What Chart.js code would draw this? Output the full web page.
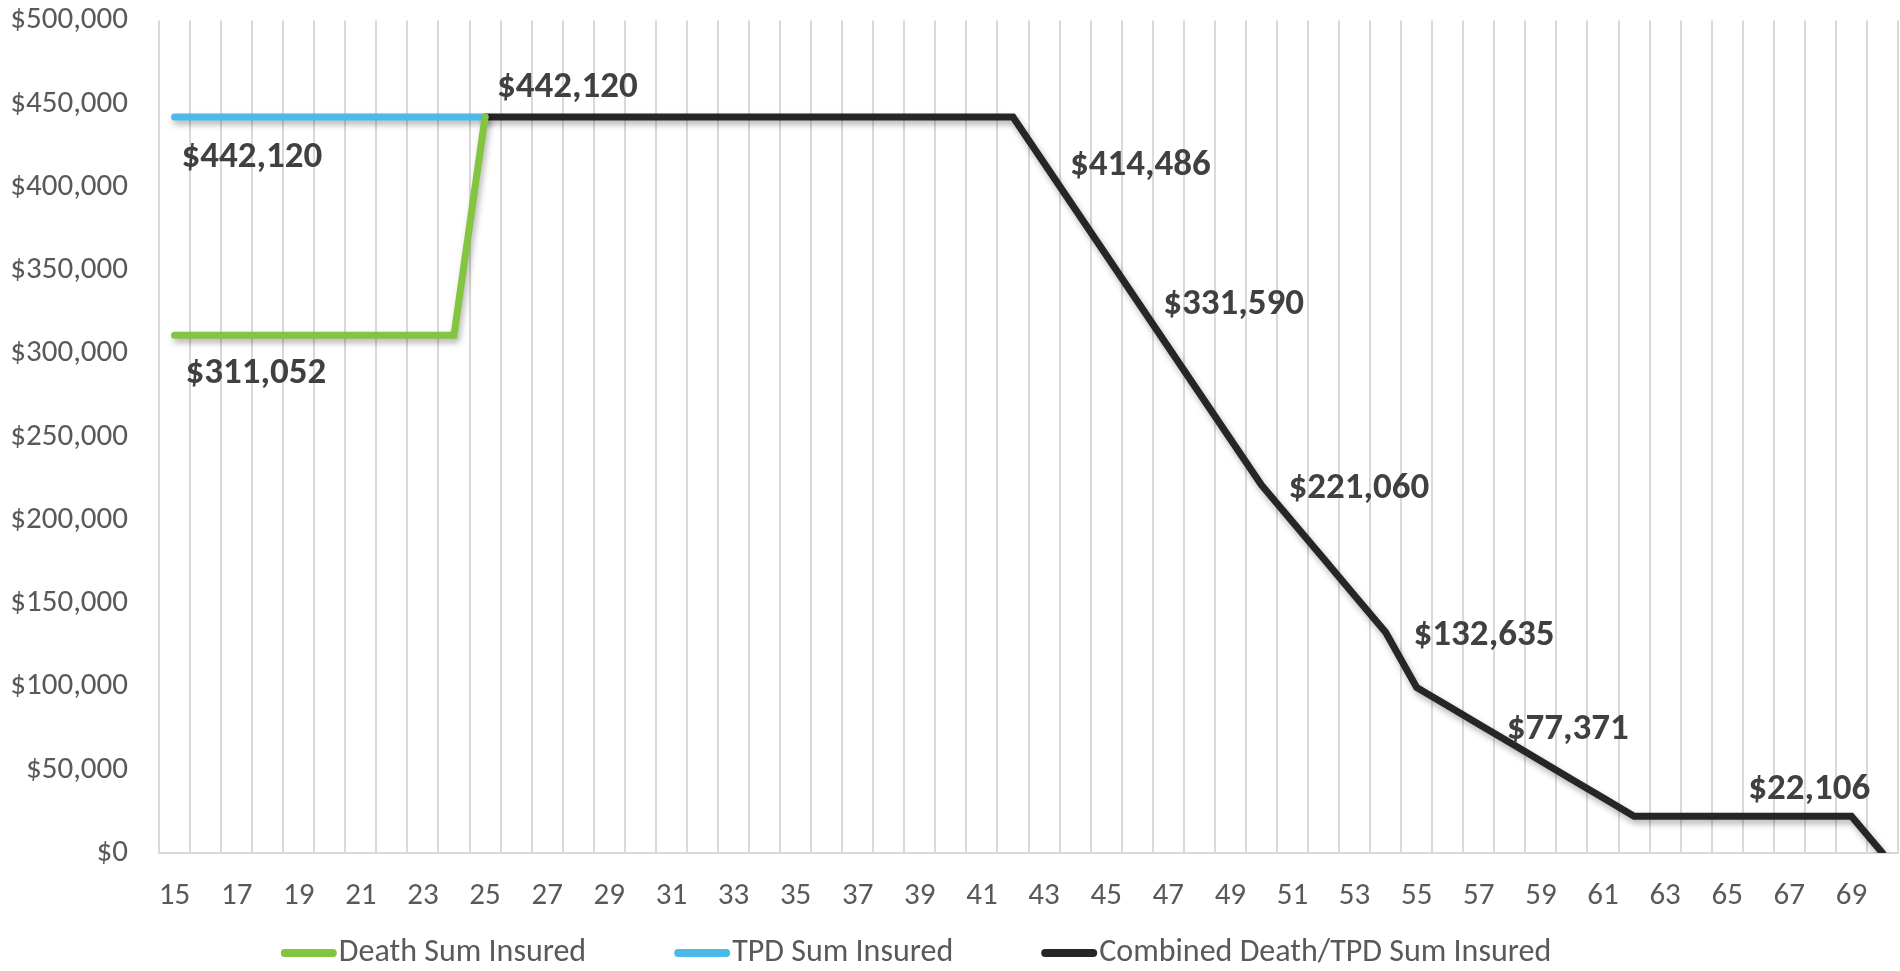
<!DOCTYPE html>
<html>
<head>
<meta charset="utf-8">
<script src="https://cdn.jsdelivr.net/npm/chart.js@4.4.1/dist/chart.umd.min.js"></script>
<style>
  html, body { margin: 0; padding: 0; background: #ffffff; }
  #wrap { width: 1900px; height: 971px; position: relative; }
</style>
</head>
<body>
<div id="wrap"><canvas id="c" width="1900" height="971"></canvas></div>
<script>
// ---------- DATA ----------
const ages = ['15','16','17','18','19','20','21','22','23','24','25','26','27','28','29','30',
  '31','32','33','34','35','36','37','38','39','40','41','42','43','44','45','46','47','48',
  '49','50','51','52','53','54','55','56','57','58','59','60','61','62','63','64','65','66',
  '67','68','69','70'];

const deathSumInsured = [311052,311052,311052,311052,311052,311052,311052,311052,311052,311052,
  442120,null,null,null,null,null,null,null,null,null,null,null,null,null,null,null,null,null,
  null,null,null,null,null,null,null,null,null,null,null,null,null,null,null,null,null,null,
  null,null,null,null,null,null,null,null,null,null];

const tpdSumInsured = [442120,442120,442120,442120,442120,442120,442120,442120,442120,442120,
  442120,null,null,null,null,null,null,null,null,null,null,null,null,null,null,null,null,null,
  null,null,null,null,null,null,null,null,null,null,null,null,null,null,null,null,null,null,
  null,null,null,null,null,null,null,null,null,null];

const combinedSumInsured = [null,null,null,null,null,null,null,null,null,null,
  442120,442120,442120,442120,442120,442120,442120,442120,442120,442120,442120,442120,442120,
  442120,442120,442120,442120,442120,
  414486,386855,359222,331590,303958,276325,248693,221060,
  198954,176848,154741,132635,
  99477,88424,77371,66318,55265,44212,33159,22106,
  22106,22106,22106,22106,22106,22106,22106,0];

const seriesNames = ['Death Sum Insured', 'TPD Sum Insured', 'Combined Death/TPD Sum Insured'];
const yTicks = [0, 50000, 100000, 150000, 200000, 250000, 300000, 350000, 400000, 450000, 500000];

// which points carry a value label (dataset index, point index)
const labelledPoints = [
  { ds: 1, i: 0 },
  { ds: 0, i: 0 },
  { ds: 2, i: 10 },
  { ds: 2, i: 28 },
  { ds: 2, i: 31 },
  { ds: 2, i: 35 },
  { ds: 2, i: 39 },
  { ds: 2, i: 42 },
  { ds: 2, i: 50 }
];
// label placement offsets (style, px)
const labelOffsets = [
  [7, 41], [11, 39], [12, -29], [26, 3], [26, 4], [27, 4], [28, 4], [28, 6], [21, -26]
];

// ---------- STYLE ----------
const FONT = 'Calibri, Carlito, Lato, sans-serif';
const colors = ['#84C441', '#4BB9EA', '#262626'];
const TEXT = '#595959';

const fmt = v => '$' + Number(v).toLocaleString('en-US');

const shadowPlugin = {
  id: 'lineShadow',
  beforeDatasetsDraw(chart) {
    const ctx = chart.ctx;
    ctx.save();
    ctx.shadowColor = 'rgba(0,0,0,0.30)';
    ctx.shadowBlur = 6;
    ctx.shadowOffsetX = 2;
    ctx.shadowOffsetY = 4;
  },
  afterDatasetsDraw(chart) {
    chart.ctx.restore();
  }
};

const valueLabels = {
  id: 'valueLabels',
  afterDatasetsDraw(chart) {
    const ctx = chart.ctx;
    ctx.save();
    ctx.font = 'bold 37px ' + FONT;
    ctx.fillStyle = '#404040';
    ctx.textAlign = 'left';
    ctx.textBaseline = 'middle';
    labelledPoints.forEach((p, k) => {
      const el = chart.getDatasetMeta(p.ds).data[p.i];
      const v = chart.data.datasets[p.ds].data[p.i];
      ctx.fillText(fmt(v), el.x + labelOffsets[k][0], el.y + labelOffsets[k][1]);
    });
    ctx.restore();
  }
};

// legend drawn in the reserved strip below the x axis
const bottomLegend = {
  id: 'bottomLegend',
  afterDraw(chart) {
    const ctx = chart.ctx;
    const sw = 56, gapText = 2, gapItem = 88, centerX = 916, y = 953;
    ctx.save();
    ctx.font = '32px ' + FONT;
    ctx.textBaseline = 'middle';
    ctx.textAlign = 'left';
    const items = chart.data.datasets.map(ds => ({ text: ds.label, color: ds.borderColor, w: ctx.measureText(ds.label).width }));
    const total = items.reduce((a, it) => a + sw + gapText + it.w, 0) + gapItem * (items.length - 1);
    let x = centerX - total / 2;
    items.forEach(it => {
      ctx.strokeStyle = it.color;
      ctx.lineWidth = 8;
      ctx.lineCap = 'round';
      ctx.beginPath();
      ctx.moveTo(x + 4, y);
      ctx.lineTo(x + sw - 4, y);
      ctx.stroke();
      ctx.fillStyle = TEXT;
      ctx.fillText(it.text, x + sw + gapText, y);
      x += sw + gapText + it.w + gapItem;
    });
    ctx.restore();
  }
};

new Chart(document.getElementById('c'), {
  type: 'line',
  data: {
    labels: ages,
    datasets: [
      { label: seriesNames[0], data: deathSumInsured, borderColor: colors[0], backgroundColor: colors[0] },
      { label: seriesNames[1], data: tpdSumInsured, borderColor: colors[1], backgroundColor: colors[1] },
      { label: seriesNames[2], data: combinedSumInsured, borderColor: colors[2], backgroundColor: colors[2] }
    ]
  },
  options: {
    responsive: false,
    animation: false,
    layout: { padding: { left: 0, right: 2, top: 0, bottom: 41 } },
    elements: {
      line: { borderWidth: 7, tension: 0, borderCapStyle: 'round', borderJoinStyle: 'miter' },
      point: { radius: 0, hoverRadius: 0 }
    },
    spanGaps: false,
    plugins: {
      tooltip: { enabled: false },
      legend: { display: false }
    },
    scales: {
      x: {
        type: 'category',
        offset: true,
        grid: { display: true, offset: true, color: '#d9d9d9', lineWidth: 2,
                drawTicks: true, tickLength: 25, tickColor: 'rgba(0,0,0,0)' },
        border: { display: true, color: '#d9d9d9', width: 2 },
        ticks: {
          autoSkip: false, maxRotation: 0, minRotation: 0, padding: 0,
          font: { family: FONT, size: 31 }, color: TEXT,
          callback: (val, idx) => (idx % 2 === 0 ? ages[idx] : '')
        },
        afterFit: (s) => { s.height = 77; }
      },
      y: {
        min: 0, max: 500000,
        afterBuildTicks: (s) => { s.ticks = yTicks.map(v => ({ value: v })); },
        grid: { display: true, drawOnChartArea: false, drawTicks: true, tickLength: 29,
                color: 'rgba(0,0,0,0)', tickColor: 'rgba(0,0,0,0)' },
        border: { display: false },
        ticks: {
          padding: 2,
          font: { family: FONT, size: 31 }, color: TEXT,
          callback: (v) => fmt(v)
        },
        afterFit: (s) => { s.width = 159; }
      }
    }
  },
  plugins: [shadowPlugin, valueLabels, bottomLegend]
});
</script>
</body>
</html>
